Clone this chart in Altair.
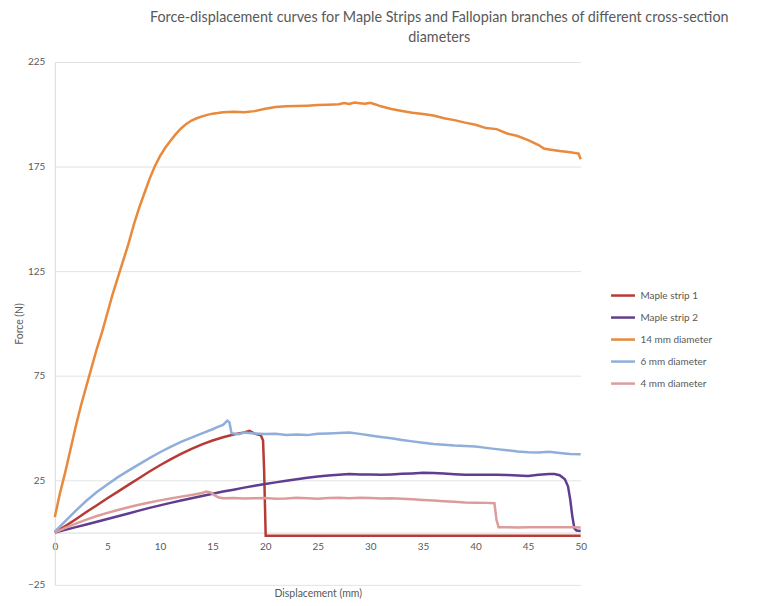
import altair as alt
import pandas as pd

series_names = ["Maple strip 1", "Maple strip 2", "14 mm diameter", "6 mm diameter", "4 mm diameter"]
series_colors = ["#b63a35", "#5f3d91", "#e8893b", "#8faedb", "#dc9c9b"]

# Maple strip 1
strip1_x = [0, 1, 2, 3, 4, 5, 6, 7, 8, 9, 10, 11, 12, 13, 14, 15, 16, 17, 18, 18.5, 19, 19.4, 19.6, 19.8, 19.9, 20.05, 25, 30, 35, 40, 45, 50]
strip1_f = [0, 3.1, 6.4, 9.8, 13.1, 16.4, 19.6, 22.8, 26.0, 29.2, 32.2, 35.0, 37.6, 40.0, 42.2, 44.0, 45.6, 46.9, 47.9, 48.6, 47.3, 46.8, 46.4, 44.0, 30.0, -1.5, -1.5, -1.5, -1.5, -1.5, -1.5, -1.5]

# Maple strip 2
strip2_x = [0, 1, 2, 3, 4, 5, 6, 7, 8, 9, 10, 11, 12, 13, 14, 15, 16, 17, 18, 19, 20, 21, 22, 23, 24, 25, 26, 27, 28, 29, 30, 31, 32, 33, 34, 35, 36, 37, 38, 39, 40, 41, 42, 43, 44, 45, 46, 47, 47.5, 48, 48.5, 48.8, 49.0, 49.2, 49.4, 49.6, 50]
strip2_f = [0, 1.3, 2.6, 3.9, 5.2, 6.5, 7.8, 9.1, 10.5, 11.8, 13.0, 14.2, 15.3, 16.4, 17.5, 18.6, 19.6, 20.5, 21.5, 22.4, 23.2, 24.0, 24.8, 25.5, 26.2, 26.8, 27.3, 27.7, 28.0, 27.8, 27.8, 27.6, 27.8, 28.1, 28.3, 28.6, 28.5, 28.2, 27.9, 27.6, 27.7, 27.6, 27.6, 27.5, 27.3, 27.0, 27.6, 28.0, 28.0, 27.4, 25.5, 22.0, 16.0, 8.0, 2.0, 1.0, 0.8]

# 14 mm diameter
d14_x = [0, 0.5, 1, 1.5, 2, 2.5, 3, 3.5, 4, 4.5, 5, 5.5, 6, 6.5, 7, 7.5, 8, 8.5, 9, 9.5, 10, 10.5, 11, 11.5, 12, 12.5, 13, 13.5, 14, 14.5, 15, 15.5, 16, 17, 18, 19, 20, 21, 22, 23, 24, 25, 26, 27, 27.5, 28, 28.5, 29, 29.5, 30, 30.5, 31, 32, 33, 34, 35, 36, 37, 38, 39, 40, 41, 42, 43, 44, 45, 46, 46.5, 47, 48, 49, 49.8, 50]
d14_f = [7.5, 19, 29, 40, 51, 61, 70, 79, 88, 96, 105, 114, 122, 130, 138, 147, 155, 162, 169, 175, 180, 184, 187.3, 190.5, 193.2, 195.4, 197.0, 198.1, 199.0, 199.7, 200.3, 200.6, 201.0, 201.2, 201.0, 201.5, 202.6, 203.5, 203.8, 203.9, 204.1, 204.4, 204.6, 204.8, 205.4, 204.9, 205.6, 205.3, 205.0, 205.5, 204.7, 203.8, 202.5, 201.6, 200.7, 200.1, 199.4, 198.1, 197.2, 196.0, 195.0, 193.4, 192.9, 190.8, 189.6, 187.6, 185.3, 183.6, 183.2, 182.4, 181.8, 181.2, 178.5]

# 6 mm diameter
d6_x = [0, 1, 2, 3, 4, 5, 6, 7, 8, 9, 10, 11, 12, 13, 14, 15, 15.5, 16, 16.4, 16.6, 16.8, 17.5, 18, 19, 20, 21, 22, 23, 24, 25, 26, 27, 28, 29, 30, 31, 32, 33, 34, 35, 36, 37, 38, 39, 40, 41, 42, 43, 44, 45, 46, 47, 48, 49, 50]
d6_f = [0.5, 5.5, 10.5, 15.2, 19.4, 23.0, 26.5, 29.6, 32.6, 35.6, 38.4, 41.0, 43.4, 45.4, 47.4, 49.4, 50.5, 51.5, 53.5, 52.8, 47.5, 47.0, 47.8, 47.4, 47.1, 47.3, 46.7, 46.9, 46.6, 47.2, 47.4, 47.6, 47.8, 47.2, 46.4, 45.7, 45.1, 44.3, 43.6, 43.0, 42.3, 42.0, 41.6, 41.4, 41.2, 40.5, 39.9, 39.4, 38.8, 38.4, 38.3, 38.6, 38.1, 37.6, 37.4]

# 4 mm diameter
d4_x = [0, 1, 2, 3, 4, 5, 6, 7, 8, 9, 10, 11, 12, 13, 14, 14.4, 14.8, 15.2, 15.6, 16, 17, 18, 19, 20, 21, 22, 23, 24, 25, 26, 27, 28, 29, 30, 31, 32, 33, 34, 35, 36, 37, 38, 39, 40, 41, 41.8, 42.0, 42.2, 43, 44, 45, 46, 47, 48, 49, 50]
d4_f = [0, 2.2, 4.3, 6.2, 7.9, 9.4, 10.8, 12.1, 13.3, 14.4, 15.4, 16.3, 17.2, 18.0, 18.9, 19.6, 19.2, 17.8, 16.8, 16.4, 16.5, 16.3, 16.4, 16.5, 16.2, 16.3, 16.6, 16.4, 16.2, 16.5, 16.7, 16.4, 16.6, 16.5, 16.3, 16.4, 16.2, 15.9, 15.6, 15.3, 15.0, 14.7, 14.4, 14.3, 14.2, 14.0, 6.0, 2.5, 2.6, 2.4, 2.5, 2.6, 2.5, 2.6, 2.5, 2.4]

x_ticks = [0, 5, 10, 15, 20, 25, 30, 35, 40, 45, 50]
y_ticks = [-25, 25, 75, 125, 175, 225]

rows = []
for name, xs, fs in zip(series_names,
                        [strip1_x, strip2_x, d14_x, d6_x, d4_x],
                        [strip1_f, strip2_f, d14_f, d6_f, d4_f]):
    for i, (x, f) in enumerate(zip(xs, fs)):
        rows.append({"series": name, "disp": x, "force": f, "idx": i})
df = pd.DataFrame(rows)

W, H = 528, 525
FONT = "Lato"
GRAY = "#595959"

chart = alt.Chart(df).mark_line(strokeWidth=2.5).encode(
    x=alt.X("disp:Q",
            scale=alt.Scale(domain=[0, 50], nice=False),
            axis=alt.Axis(values=x_ticks, offset=-H * 0.1, title="Displacement (mm)",
                          titleY=56, titleFontWeight="normal", titleFontSize=10.5,
                          grid=False, ticks=False, domainColor="#d9d9d9", domainWidth=1,
                          labelPadding=9, labelFontSize=10, labelColor=GRAY, titleColor=GRAY,
                          labelFlush=False,
                          labelFont=FONT, titleFont=FONT)),
    y=alt.Y("force:Q",
            scale=alt.Scale(domain=[-25, 225], nice=False, zero=False),
            axis=alt.Axis(values=y_ticks, title="Force (N)", grid=True, gridColor="#e3e3e3",
                          ticks=False, domainColor="#d9d9d9", labelPadding=10,
                          labelFontSize=10, labelColor=GRAY, titleColor=GRAY,
                          titleFontWeight="normal", titleFontSize=10.5, titlePadding=3,
                          labelFont=FONT, titleFont=FONT)),
    color=alt.Color("series:N",
                    scale=alt.Scale(domain=series_names, range=series_colors),
                    legend=alt.Legend(title=None, orient="none", legendX=557, legendY=221,
                                      symbolType="stroke", symbolSize=576, symbolStrokeWidth=2.5,
                                      labelFontSize=10, labelColor=GRAY, labelFont=FONT,
                                      rowPadding=3.1, labelOffset=4)),
    detail="series:N",
    order="idx:Q",
).properties(
    width=W, height=H,
    title=alt.TitleParams(
        text=["Force-displacement curves for Maple Strips and  Fallopian branches of different cross-section",
              "diameters"],
        font=FONT, fontSize=14.4, fontWeight="normal", color=GRAY,
        anchor="middle", dx=122, offset=12, lineHeight=20),
    autosize=alt.AutoSizeParams(type="none"),
    padding={"left": 47, "top": 53, "right": 170, "bottom": 16},
).configure_view(stroke=None)

chart.save("out.html", embed_options={"renderer": "svg", "actions": False})
